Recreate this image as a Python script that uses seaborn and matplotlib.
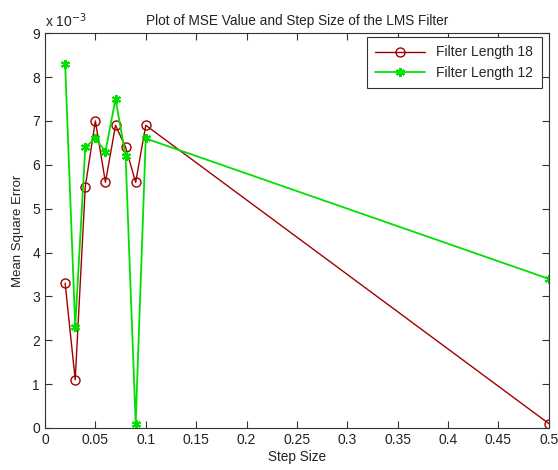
import matplotlib
matplotlib.use("Agg")
import matplotlib.pyplot as plt
import matplotlib.ticker as mticker
import pandas as pd
import seaborn as sns

sns.set_style("ticks")
plt.rcParams['font.family'] = ['Liberation Sans', 'DejaVu Sans']
plt.rcParams['xtick.direction'] = 'in'
plt.rcParams['ytick.direction'] = 'in'

# data
step_size = [0.02, 0.03, 0.04, 0.05, 0.06, 0.07, 0.08, 0.09, 0.1, 0.5]
mse_len18 = [0.0033, 0.0011, 0.0055, 0.0070, 0.0056, 0.0069, 0.0064, 0.0056, 0.0069, 0.0001]
mse_len12 = [0.0083, 0.0023, 0.0064, 0.0066, 0.0063, 0.0075, 0.0062, 0.0001, 0.0066, 0.0034]
x_ticks = [0, 0.05, 0.1, 0.15, 0.2, 0.25, 0.3, 0.35, 0.4, 0.45, 0.5]
x_ticklabels = ['0', '0.05', '0.1', '0.15', '0.2', '0.25', '0.3', '0.35', '0.4', '0.45', '0.5']
y_ticks = [i * 0.001 for i in range(10)]

df18 = pd.DataFrame({'step': step_size, 'mse': mse_len18})
df12 = pd.DataFrame({'step': step_size, 'mse': mse_len12})

fig = plt.figure(figsize=(5.58, 4.70), dpi=100)
ax = fig.add_axes([0.0806, 0.0894, 0.903, 0.840])

sns.lineplot(data=df18, x='step', y='mse', sort=False, ax=ax, color='#a00000',
             lw=1, marker='o', ms=6.5, mfc='none', mec='#a00000', mew=1,
             label='Filter Length 18')
sns.lineplot(data=df12, x='step', y='mse', sort=False, ax=ax, color='#00e000',
             lw=1.3, marker=(6, 2, 0), ms=6.5, mec='#00e000', mew=1.5,
             label='Filter Length 12')

ax.set_xlim(0, 0.5)
ax.set_ylim(0, 0.009)
ax.set_xticks(x_ticks)
ax.set_xticklabels(x_ticklabels)
ax.set_yticks(y_ticks)
ax.yaxis.set_major_formatter(mticker.FuncFormatter(lambda v, p: f"{v * 1e3:g}"))
ax.tick_params(axis='both', which='both', top=True, right=True, length=5,
               width=0.8, labelsize=10, colors='#333333', labelcolor='#222222')
for s in ax.spines.values():
    s.set_visible(True)
    s.set_linewidth(0.8)
    s.set_color('#333333')

ax.text(0.0, 1.008, r'x 10$^{-3}$', transform=ax.transAxes, fontsize=10,
        ha='left', va='bottom', color='#222222')
ax.set_title('Plot of MSE Value and Step Size of the LMS Filter', fontsize=9.8,
             color='#222222', pad=6)
ax.set_xlabel('Step Size', fontsize=9.8, color='#222222', labelpad=2)
ax.set_ylabel('Mean Square Error', fontsize=9.5, color='#222222', labelpad=6)

leg = ax.legend(loc='upper right', fancybox=False, framealpha=1, edgecolor='#333333',
                fontsize=10, handlelength=3.6, borderpad=0.6, labelspacing=0.45,
                borderaxespad=0, bbox_to_anchor=(0.986, 0.99))
leg.get_frame().set_linewidth(0.8)

fig.savefig('out.png', dpi=100)
